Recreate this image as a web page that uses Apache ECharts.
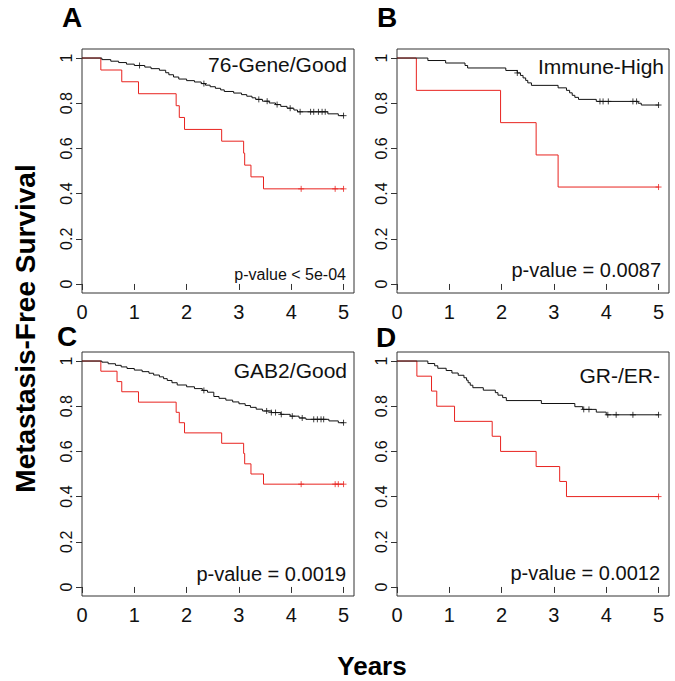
<!DOCTYPE html>
<html><head><meta charset="utf-8">
<script src="https://cdn.jsdelivr.net/npm/echarts@6/dist/echarts.min.js"></script>
<style>html,body{margin:0;padding:0;background:#fff}#c{width:675px;height:681px}</style>
</head><body><div id="c"></div>
<script>
// ---- tick labels ----
const yearTicks = [0, 1, 2, 3, 4, 5];
const survTicks = [0, 0.2, 0.4, 0.6, 0.8, 1];

// ---- panel texts ----
const panelLetters = ['A', 'B', 'C', 'D'];
const panelTitles = ['76-Gene/Good', 'Immune-High', 'GAB2/Good', 'GR-/ER-'];
const panelPvalues = ['p-value < 5e-04', 'p-value = 0.0087', 'p-value = 0.0019', 'p-value = 0.0012'];
const yTitle = 'Metastasis-Free Survival';
const xTitle = 'Years';

// ---- Panel A ----
const aBlackTimes = [0.38,0.55,0.70,0.85,1.00,1.20,1.32,1.48,1.60,1.66,1.75,1.85,2.00,2.15,2.28,2.36,2.45,2.55,2.65,2.72,2.90,3.05,3.15,3.25,3.32,3.45,3.58,3.70,3.80,3.92,4.05,4.12,4.70,4.90];
const aBlackSurv  = [0.993,0.986,0.980,0.973,0.967,0.960,0.953,0.946,0.935,0.926,0.916,0.907,0.900,0.894,0.887,0.880,0.873,0.866,0.859,0.852,0.845,0.838,0.831,0.824,0.817,0.809,0.801,0.794,0.786,0.778,0.770,0.762,0.753,0.745];
const aBlackCensor = [1.10,2.33,3.38,3.54,3.73,3.98,4.17,4.37,4.43,4.52,4.59,4.65,5.0];
const aRedTimes = [0.36,0.76,1.08,1.80,1.86,1.96,2.67,3.09,3.11,3.23,3.47];
const aRedSurv  = [0.947,0.895,0.842,0.789,0.737,0.684,0.632,0.579,0.526,0.474,0.421];
const aRedCensor = [4.19,4.84,5.0];

// ---- Panel B ----
const bBlackTimes = [0.59,0.93,1.30,1.35,2.08,2.30,2.36,2.41,2.46,2.50,2.57,3.08,3.24,3.30,3.35,3.40,3.47,3.81,4.61,4.67];
const bBlackSurv  = [0.989,0.978,0.967,0.956,0.945,0.934,0.923,0.912,0.901,0.890,0.879,0.868,0.857,0.846,0.835,0.826,0.817,0.808,0.800,0.792];
const bBlackCensor = [2.30,3.88,3.94,4.04,4.51,4.58,5.0];
const bRedTimes = [0.37,1.98,2.66,3.08];
const bRedSurv  = [0.857,0.714,0.571,0.429];
const bRedCensor = [5.0];

// ---- Panel C ----
const cBlackTimes = [0.38,0.50,0.64,0.75,0.86,1.00,1.15,1.28,1.37,1.48,1.56,1.63,1.72,1.82,2.00,2.15,2.30,2.40,2.52,2.62,2.75,2.88,3.00,3.12,3.22,3.33,3.45,3.62,3.80,3.98,4.15,4.28,4.72,4.90];
const cBlackSurv  = [0.995,0.988,0.981,0.974,0.967,0.960,0.953,0.946,0.938,0.930,0.922,0.914,0.904,0.894,0.886,0.878,0.870,0.862,0.843,0.835,0.827,0.819,0.811,0.803,0.795,0.787,0.779,0.772,0.764,0.756,0.748,0.742,0.735,0.727];
const cBlackCensor = [2.33,3.53,3.62,3.70,3.81,4.02,4.21,4.43,4.50,4.57,4.62,5.0];
const cRedTimes = [0.36,0.67,0.76,1.08,1.80,1.86,1.96,2.67,3.09,3.11,3.23,3.47];
const cRedSurv  = [0.955,0.909,0.864,0.818,0.773,0.727,0.682,0.636,0.591,0.545,0.500,0.455];
const cRedCensor = [4.19,4.84,4.90,5.0];

// ---- Panel D ----
const dBlackTimes = [0.59,0.72,0.78,0.94,1.05,1.17,1.28,1.33,1.36,1.40,1.45,1.65,1.88,1.93,2.02,2.09,2.76,3.40,3.55,3.81,4.00];
const dBlackSurv  = [0.989,0.979,0.968,0.958,0.947,0.937,0.926,0.915,0.904,0.893,0.882,0.871,0.860,0.849,0.838,0.825,0.812,0.798,0.786,0.774,0.762];
const dBlackCensor = [3.57,3.67,4.03,4.19,4.51,5.0];
const dRedTimes = [0.38,0.66,0.76,1.10,1.82,1.98,2.66,3.11,3.24];
const dRedSurv  = [0.933,0.867,0.800,0.733,0.667,0.600,0.533,0.467,0.400];
const dRedCensor = [5.0];

const panels = [
  {black:[aBlackTimes,aBlackSurv,aBlackCensor], red:[aRedTimes,aRedSurv,aRedCensor]},
  {black:[bBlackTimes,bBlackSurv,bBlackCensor], red:[bRedTimes,bRedSurv,bRedCensor]},
  {black:[cBlackTimes,cBlackSurv,cBlackCensor], red:[cRedTimes,cRedSurv,cRedCensor]},
  {black:[dBlackTimes,dBlackSurv,dBlackCensor], red:[dRedTimes,dRedSurv,dRedCensor]}
];

// ---- layout ----
const FONT = '"Liberation Sans", Arial, Helvetica, sans-serif';
const BLACK = '#111111';
const RED = '#e8231f';
const gridBoxes = [
  {left:82, top:49, width:272, height:244},
  {left:397, top:49, width:272, height:244},
  {left:82, top:352, width:272, height:244},
  {left:397, top:352, width:272, height:244}
];
const letterPos = [[62,17],[377,17],[57,336],[376,337]];
const titlePos = [[347,64],[664,66],[347,370],[660,375]];
const pvalPos = [[346,274],[661,269.5],[346,573.5],[660,572.5]];
const pvalSize = [16,20,20,20];

function stepData(times, surv) {
  const d = [[0, 1]];
  times.forEach((t, i) => d.push([t, surv[i]]));
  d.push([5, surv[surv.length - 1]]);
  return d;
}
function survAt(times, surv, t) {
  let s = 1;
  for (let i = 0; i < times.length; i++) if (times[i] <= t) s = surv[i];
  return s;
}
function censorData(times, surv, cens) {
  return cens.map(t => [t, survAt(times, surv, t)]);
}

const PLUS = 'path://M5,0L5,10M0,5L10,5';
const grid = [], xAxis = [], yAxis = [], series = [], graphic = [];

gridBoxes.forEach((g, i) => {
  grid.push(Object.assign({show:true, borderColor:'#333', borderWidth:1, backgroundColor:'transparent'}, g));
  xAxis.push({
    type:'value', gridIndex:i, min:0, max:5.2,
    axisLine:{show:false}, splitLine:{show:false},
    axisTick:{show:true, inside:false, length:6, customValues:yearTicks, lineStyle:{color:'#333', width:1}},
    axisLabel:{show:true, customValues:yearTicks, fontSize:20, lineHeight:18, color:BLACK, fontFamily:FONT, margin:10,
      formatter: v => String(Math.round(v))}
  });
  yAxis.push({
    type:'value', gridIndex:i, min:-0.04, max:1.04,
    axisLine:{show:false}, splitLine:{show:false},
    axisTick:{show:true, inside:false, length:6, customValues:survTicks, lineStyle:{color:'#333', width:1}},
    axisLabel:{show:true, customValues:survTicks, fontSize:16, color:BLACK, fontFamily:FONT, margin:8, rotate:90,
      formatter: v => String(Math.round(v * 10) / 10)}
  });
  const p = panels[i];
  series.push({type:'line', xAxisIndex:i, yAxisIndex:i, step:'end', showSymbol:false, symbol:'none',
    data: stepData(p.red[0], p.red[1]), lineStyle:{color:RED, width:1}, silent:true, z:2});
  series.push({type:'line', xAxisIndex:i, yAxisIndex:i, step:'end', showSymbol:false, symbol:'none',
    data: stepData(p.black[0], p.black[1]), lineStyle:{color:BLACK, width:1}, silent:true, z:3});
  series.push({type:'scatter', xAxisIndex:i, yAxisIndex:i, symbol:PLUS, symbolSize:6,
    data: censorData(p.red[0], p.red[1], p.red[2]),
    itemStyle:{color:'none', borderColor:RED, borderWidth:1}, silent:true, z:4});
  series.push({type:'scatter', xAxisIndex:i, yAxisIndex:i, symbol:PLUS, symbolSize:6,
    data: censorData(p.black[0], p.black[1], p.black[2]),
    itemStyle:{color:'none', borderColor:BLACK, borderWidth:1}, silent:true, z:5});

  graphic.push({type:'text', style:{text:panelLetters[i], x:letterPos[i][0], y:letterPos[i][1],
    font:'bold 28px ' + FONT, lineHeight:20, fill:'#000', align:'left', verticalAlign:'middle'}});
  graphic.push({type:'text', style:{text:panelTitles[i], x:titlePos[i][0], y:titlePos[i][1],
    font:'21px ' + FONT, fill:BLACK, align:'right', verticalAlign:'middle'}});
  graphic.push({type:'text', style:{text:panelPvalues[i], x:pvalPos[i][0], y:pvalPos[i][1],
    font:pvalSize[i] + 'px ' + FONT, fill:BLACK, align:'right', verticalAlign:'middle'}});
});

graphic.push({type:'text', x:25, y:328.5, rotation:Math.PI/2, style:{text:yTitle, x:0, y:0,
  font:'bold 28px ' + FONT, fill:'#000', align:'center', verticalAlign:'middle'}});
graphic.push({type:'text', style:{text:xTitle, x:372, y:666,
  font:'bold 26px ' + FONT, fill:'#000', align:'center', verticalAlign:'middle'}});

const chart = echarts.init(document.getElementById('c'), null, {renderer:'svg'});
chart.setOption({
  animation:false,
  backgroundColor:'#ffffff',
  grid, xAxis, yAxis, series, graphic
});
</script>
</body></html>
